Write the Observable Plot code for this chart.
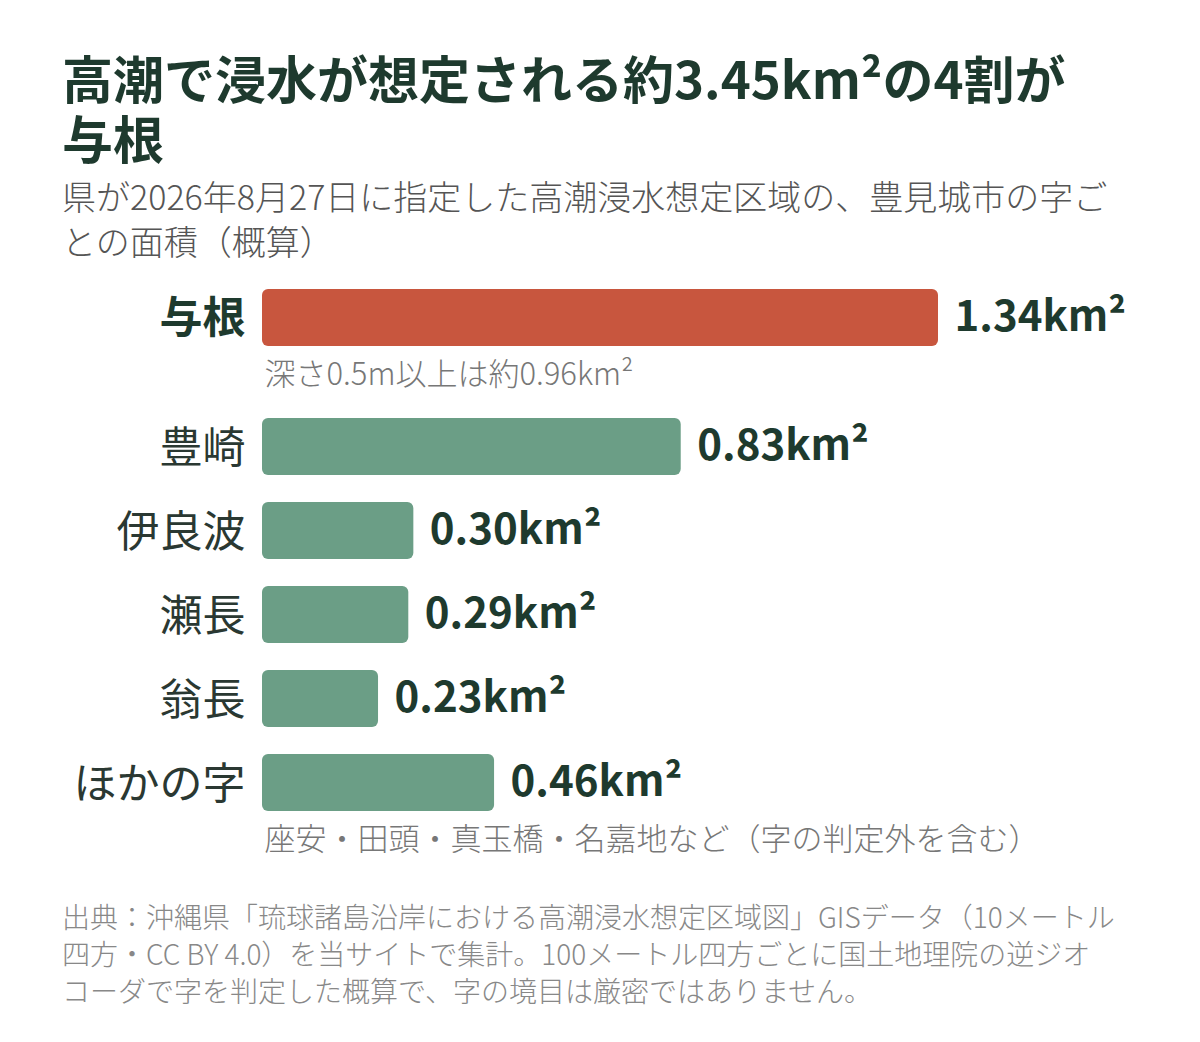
<!DOCTYPE html>
<html lang="ja"><head><meta charset="utf-8">
<script src="https://cdn.jsdelivr.net/npm/d3@7"></script>
<script src="https://cdn.jsdelivr.net/npm/@observablehq/plot@0.6"></script>
<style>
  body{margin:0;background:#fff;font-family:'Noto Sans CJK JP','Noto Sans',sans-serif;}
  #page{position:relative;width:1200px;height:1042px;overflow:hidden;background:#fff;}
  .title{position:absolute;left:62px;top:47px;margin:0;font-size:51px;font-weight:700;line-height:60px;color:#1e3a2e;}
  .subtitle{position:absolute;left:62px;top:173px;margin:0;font-size:34px;font-weight:300;line-height:45px;color:#555;}
  #chartA{position:absolute;left:0;top:270px;}
  #chartB{position:absolute;left:0;top:400px;}
  .footer{position:absolute;left:62px;top:898px;margin:0;font-size:28px;font-weight:300;line-height:37px;color:#888;}
</style>
</head><body>
<div id="page">
  <h1 class="title">高潮で浸水が想定される約3.45km²の4割が<br>与根</h1>
  <p class="subtitle">県が2026年8月27日に指定した高潮浸水想定区域の、豊見城市の字ご<br>との面積（概算）</p>
  <div id="chartA"></div>
  <div id="chartB"></div>
  <p class="footer">出典：沖縄県「琉球諸島沿岸における高潮浸水想定区域図」GISデータ（10メートル<br>四方・CC BY 4.0）を当サイトで集計。100メートル四方ごとに国土地理院の逆ジオ<br>コーダで字を判定した概算で、字の境目は厳密ではありません。</p>
</div>
<script>
// ---- data ----
const areas = ["与根", "豊崎", "伊良波", "瀬長", "翁長", "ほかの字"];
const values = [1.34, 0.83, 0.30, 0.29, 0.23, 0.46];
const highlightArea = "与根";
const noteAreas = ["与根", "ほかの字"];
const noteTexts = ["深さ0.5m以上は約0.96km²", "座安・田頭・真玉橋・名嘉地など（字の判定外を含む）"];

const rows = areas.map((a, i) => ({area: a, value: values[i]}));
const notes = noteAreas.map((a, i) => ({area: a, text: noteTexts[i]}));
const xMax = d3.max(values);

const RED = "#c8563e", GREEN = "#6b9e86", DARK = "#1e3a2e";
const STEP = 84, BAR = 57;

function chart(data, noteData, mt, mb) {
  const dom = data.map(d => d.area);
  const pad = dom.length > 1 ? (STEP - BAR) / STEP : 0;
  const bandRange = dom.length > 1 ? STEP * (dom.length - pad) : BAR;
  return Plot.plot({
    width: 1200,
    height: mt + mb + bandRange,
    marginLeft: 262,
    marginRight: 262,
    marginTop: mt,
    marginBottom: mb,
    style: {fontFamily: "'Noto Sans CJK JP','Noto Sans',sans-serif", overflow: "visible", background: "transparent"},
    x: {domain: [0, xMax], axis: null},
    y: {domain: dom, paddingInner: pad, paddingOuter: 0, axis: null},
    marks: [
      Plot.barX(data, {
        x: "value", y: "area", rx: 6,
        fill: d => d.area === highlightArea ? RED : GREEN
      }),
      Plot.text(data.filter(d => d.area === highlightArea), {
        x: 0, y: "area", text: "area", textAnchor: "end", dx: -17, dy: 1,
        fontSize: 43, fontWeight: 700, fill: DARK
      }),
      Plot.text(data.filter(d => d.area !== highlightArea), {
        x: 0, y: "area", text: "area", textAnchor: "end", dx: -17, dy: 2,
        fontSize: 43, fontWeight: 400, fill: "#2a3832"
      }),
      Plot.text(data, {
        x: "value", y: "area", text: d => d.value.toFixed(2) + "km²",
        textAnchor: "start", dx: 16, dy: 0,
        fontSize: 42, fontWeight: 700, fill: DARK
      }),
      Plot.text(noteData, {
        x: 0, y: "area", text: "text", textAnchor: "start", dx: 2, dy: 57,
        fontSize: 31, fontWeight: 300, fill: "#777"
      })
    ]
  });
}

const first = rows.filter(d => d.area === highlightArea);
const rest = rows.filter(d => d.area !== highlightArea);
document.getElementById("chartA").append(chart(first, notes.filter(n => n.area === highlightArea), 19, 54));
document.getElementById("chartB").append(chart(rest, notes.filter(n => n.area !== highlightArea), 18, 50));
</script>
</body></html>
